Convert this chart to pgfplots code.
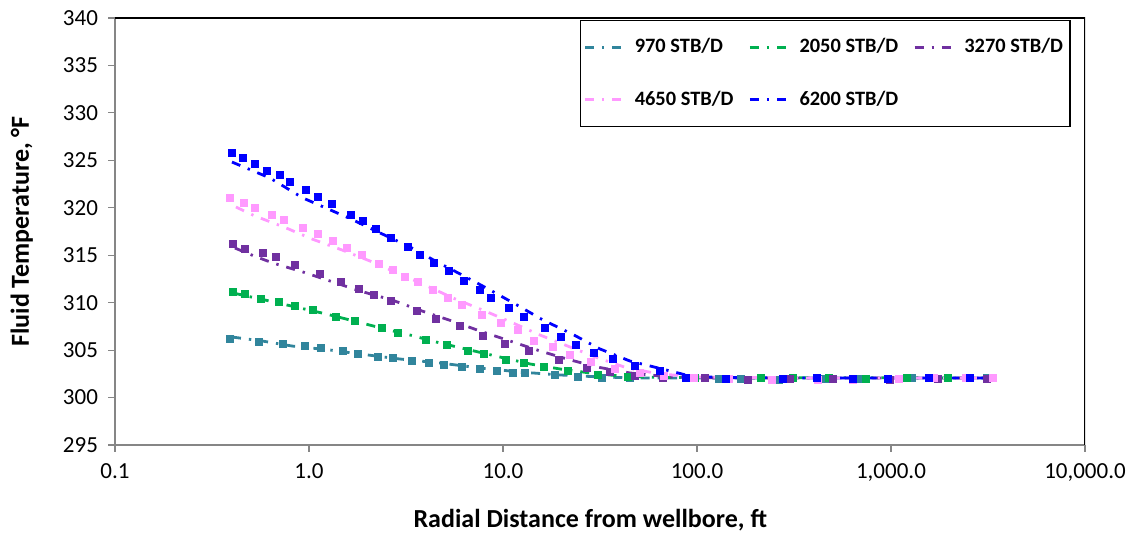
\documentclass[border=0pt]{standalone}
\usepackage{pgfplots}
\pgfplotsset{compat=1.18}
\usepackage{fontspec}
\setmainfont{Carlito}
\definecolor{cteal}{HTML}{31859C}
\definecolor{cgreen}{HTML}{00B050}
\definecolor{cpurple}{HTML}{7030A0}
\definecolor{cpink}{HTML}{FF99FF}
\definecolor{cblue}{HTML}{0000FF}
\definecolor{axgray}{HTML}{868686}
\tikzset{dd/.style={dash pattern=on 4.5pt off 4pt on 1.2pt off 4pt}}
\begin{document}
\begin{tikzpicture}[x=1pt,y=1pt]
\useasboundingbox (-57.5,-45) rectangle (505.5,222.5);
\begin{axis}[
  at={(0,0)}, anchor=south west, scale only axis,
  width=485pt, height=213.5pt,
  xmode=log, xmin=0.1, xmax=10000, ymin=295, ymax=340,
  xtick={0.1,1,10,100,1000,10000},
  xticklabels={0.1,1.0,10.0,100.0,{1,000.0},{10,000.0}},
  ytick={295,300,...,340},
  xminorticks=false, yminorticks=false,
  axis x line*=bottom, axis y line*=left,
  axis line style={color=axgray, line width=0.7pt, -},
  tick align=outside, major tick length=3.5pt,
  tick style={color=axgray, line width=0.6pt},
  /pgf/number format/assume math mode=true,
  tick label style={font=\fontsize{11.5}{14}\selectfont},
  yticklabel style={xshift=-1.5pt},
  xticklabel style={yshift=-2.5pt},
  xlabel={\bfseries Radial Distance from wellbore, ft},
  ylabel={\bfseries Fluid Temperature, °F},
  label style={font=\fontsize{13}{15}\selectfont},
  xlabel style={at={(axis description cs:0.49,-0.1756)}, anchor=center},
  ylabel style={at={(axis description cs:-0.096,0.5)}, anchor=center},
  legend columns=3,
  legend cell align=left,
  legend image code/.code={\draw[#1] (0cm,0cm) -- (0.78cm,0cm);},
  legend style={at={(rel axis cs:0.4794,0.9953)}, anchor=north west,
    draw=black, line width=0.6pt, font=\bfseries\fontsize{10.2}{12}\selectfont,
    /tikz/every even column/.append style={column sep=5.5pt},
    /tikz/row sep=13.5pt, inner xsep=1.5pt, inner ysep=7pt},
]
% 970 STB/D
\addplot[only marks, mark=square*, mark size=1.9pt, color=cteal, forget plot] table {
x y
0.392 306.17
0.552 305.85
0.734 305.64
0.954 305.43
1.153 305.22
1.497 304.91
1.789 304.59
2.268 304.27
2.710 304.17
3.396 303.85
4.155 303.64
4.965 303.43
6.148 303.22
7.610 303.01
9.314 302.80
11.26 302.59
12.98 302.59
18.54 302.38
24.35 302.17
32.38 302.06
45.14 302.06
66.79 302.06
129.8 301.95
168.6 301.95
264.7 301.85
456.8 301.95
692.2 301.95
1283 302.06
3125 302.06
};
\addplot[color=cteal, line width=1.4pt, dd] table {
x y
0.401 306.38
0.573 305.96
0.817 305.43
1.283 305.01
1.832 304.59
2.945 304.06
4.734 303.64
7.610 303.12
12.24 302.69
19.67 302.38
31.62 302.17
50.84 302.06
3518 302.06
};
\addlegendentry{970 STB/D}
% 2050 STB/D
\addplot[only marks, mark=square*, mark size=1.9pt, color=cgreen, forget plot] table {
x y
0.406 311.12
0.468 310.91
0.566 310.39
0.700 310.07
0.847 309.65
1.049 309.23
1.378 308.49
1.726 308.07
2.378 307.33
2.876 306.80
4.010 306.07
5.144 305.54
6.601 304.91
7.984 304.59
10.36 303.96
12.83 303.64
16.27 303.22
21.63 302.80
30.88 302.38
44.10 302.17
97.6 302.06
213.8 302.06
312.5 302.06
479.0 302.06
743.1 301.95
1209 302.06
1967 302.06
};
\addplot[color=cgreen, line width=1.4pt, dd] table {
x y
0.406 311.02
0.593 310.28
0.899 309.44
1.224 308.81
1.789 307.96
2.465 307.22
3.316 306.59
4.734 305.75
6.760 305.01
9.650 304.27
13.78 303.54
19.67 303.01
28.09 302.59
40.10 302.27
64.45 302.11
3518 302.06
};
\addlegendentry{2050 STB/D}
% 3270 STB/D
\addplot[only marks, mark=square*, mark size=1.9pt, color=cpurple, forget plot] table {
x y
0.406 316.18
0.468 315.66
0.579 315.23
0.676 314.81
0.847 313.97
1.139 313.03
1.462 312.18
1.810 311.44
2.163 310.81
2.647 310.18
3.604 309.12
4.514 308.28
6.004 307.54
7.888 306.49
10.24 305.65
13.61 304.91
19.44 303.96
27.10 303.12
35.61 302.69
47.90 302.27
66.79 302.06
109.9 302.06
183.2 301.85
301.6 301.95
502.4 301.95
988 301.85
1747 301.95
3125 301.95
};
\addplot[color=cpurple, line width=1.4pt, dd] table {
x y
0.415 315.76
0.521 314.92
0.652 314.18
0.931 313.23
1.330 312.18
1.832 311.23
2.678 310.28
3.824 309.12
5.460 308.07
7.610 307.01
10.87 305.96
15.51 304.91
21.38 304.06
30.51 303.22
45.14 302.59
72.59 302.17
131.4 302.06
3518 302.06
};
\addlegendentry{3270 STB/D}
% 4650 STB/D
\addplot[only marks, mark=square*, mark size=1.9pt, color=cpink, forget plot] table {
x y
0.392 321.03
0.462 320.50
0.527 319.98
0.645 319.24
0.743 318.71
0.931 317.87
1.113 317.24
1.330 316.50
1.570 315.76
1.876 315.02
2.296 314.08
2.710 313.44
3.125 312.71
3.646 312.18
4.357 311.34
5.206 310.49
6.148 309.75
7.795 308.70
9.765 307.86
11.95 307.12
14.45 305.96
18.10 305.33
22.15 304.48
28.42 303.75
37.78 303.01
50.84 302.59
67.59 302.27
96.5 302.06
146.2 301.95
243.6 301.85
420.5 301.85
637.1 301.85
1100 301.95
1666 302.06
2436 302.06
3357 302.06
};
\addplot[color=cpink, line width=1.4pt, dd] table {
x y
0.420 320.08
0.527 319.13
0.743 317.97
1.036 316.71
1.480 315.55
2.063 314.39
2.776 313.23
3.963 311.86
5.525 310.49
8.076 309.12
11.26 307.86
15.51 306.59
22.15 305.33
30.88 304.17
43.58 303.12
64.45 302.48
103.6 302.17
339.6 302.06
3518 302.06
};
\addlegendentry{4650 STB/D}
% 6200 STB/D
\addplot[only marks, mark=square*, mark size=1.9pt, color=cblue, forget plot] table {
x y
0.401 325.77
0.457 325.25
0.527 324.61
0.607 323.88
0.709 323.45
0.798 322.72
0.965 321.87
1.113 321.14
1.314 320.40
1.646 319.24
1.898 318.61
2.215 317.76
2.647 316.81
3.238 315.87
3.735 315.02
4.409 314.18
5.268 313.34
6.295 312.28
7.610 311.34
8.674 310.49
10.74 309.44
12.83 308.49
16.46 307.33
19.91 306.38
23.78 305.54
29.45 304.70
36.90 304.06
47.90 303.33
64.45 302.80
87.78 302.06
141.1 301.95
277.5 301.95
415.6 302.06
637.1 301.95
965 301.95
1570 302.06
2554 302.06
};
\addplot[color=cblue, line width=1.4pt, dd] table {
x y
0.401 324.82
0.629 323.14
0.931 321.03
1.646 318.82
2.268 317.45
3.316 315.87
4.57 314.29
6.15 312.92
8.57 311.34
11.81 309.75
16.08 308.17
22.69 306.70
31.62 305.12
45.1 303.85
62.9 303.12
92.0 302.27
131.4 302.11
339.6 302.06
3518 302.06
};
\addlegendentry{6200 STB/D}
\draw[black, line width=0.7pt] (rel axis cs:0,1) -- (rel axis cs:1,1) -- (rel axis cs:1,0);
\end{axis}
\end{tikzpicture}
\end{document}
